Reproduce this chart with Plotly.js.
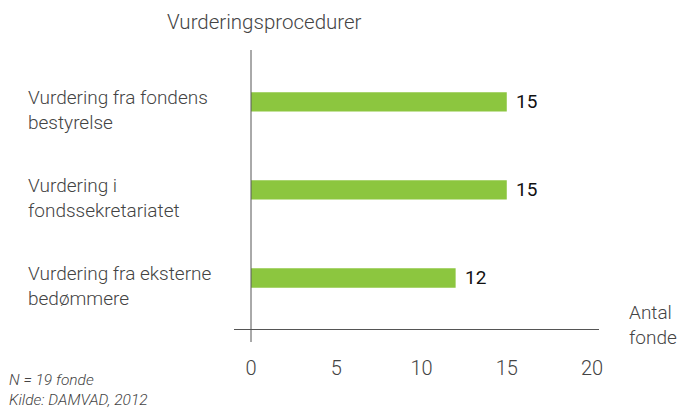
<!DOCTYPE html>
<html>
<head>
<meta charset="utf-8">
<script src="https://cdn.plot.ly/plotly-3.0.1.min.js"></script>
<style>html,body{margin:0;padding:0;background:#fff;}#chart{width:678px;height:409px;}</style>
</head>
<body>
<div id="chart"></div>
<script>
// Data
const categories = ["Vurdering fra fondens<br>bestyrelse", "Vurdering i<br>fondssekretariatet", "Vurdering fra eksterne<br>bedømmere"];
const values = [15, 15, 12];
const tickValues = [0, 5, 10, 15, 20];
const tickLabels = ["0", "5", "10", "15", "20"];
const chartTitle = "Vurderingsprocedurer";
const xAxisLabel = "Antal<br>fonde";
const footnote = "N = 19 fonde<br>Kilde: DAMVAD, 2012";

const FONT = 'Roboto, "Liberation Sans", Arial, sans-serif';
const GREY = '#444';

const trace = {
  type: 'bar',
  orientation: 'h',
  y: categories,
  x: values,
  width: 0.22,
  marker: {color: '#8cc63f'},
  hoverinfo: 'none'
};

const annotations = categories.map(c => ({
  xref: 'paper', yref: 'y', x: (26 - 234) / 365, y: c, yshift: -8,
  xanchor: 'left', yanchor: 'middle', align: 'left', showarrow: false,
  text: c, font: {family: FONT, size: 19, color: GREY, weight: 300}
}));
categories.forEach((c, i) => annotations.push({
  xref: 'x', yref: 'y', x: values[i], y: c, xshift: 7,
  xanchor: 'left', yanchor: 'middle', showarrow: false,
  text: String(values[i]), font: {family: FONT, size: 19, color: '#111', weight: 400}
}));
annotations.push({
  xref: 'paper', yref: 'paper', x: (627 - 234) / 365, y: 0.014,
  xanchor: 'left', yanchor: 'middle', align: 'left', showarrow: false,
  text: xAxisLabel, font: {family: FONT, size: 19, color: GREY, weight: 300}
});
annotations.push({
  xref: 'paper', yref: 'paper', x: (7 - 234) / 365, y: -(369 - 329) / 279,
  xanchor: 'left', yanchor: 'top', align: 'left', showarrow: false,
  text: '<i>' + footnote + '</i>', font: {family: FONT, size: 15.5, color: GREY, weight: 300}
});

const layout = {
  width: 678, height: 409,
  margin: {l: 234, r: 79, t: 50, b: 80, pad: 0},
  paper_bgcolor: '#fff', plot_bgcolor: '#fff',
  showlegend: false,
  title: {text: chartTitle, xref: 'container', yref: 'container', x: 167 / 678, xanchor: 'left',
          y: 1 - 22 / 409, yanchor: 'middle', font: {family: FONT, size: 20.5, color: GREY, weight: 300}},
  xaxis: {
    range: [-1, 20.41], tickvals: tickValues, ticktext: tickLabels,
    showgrid: false, zeroline: false, showline: true, linecolor: '#555', linewidth: 1,
    ticks: 'outside', ticklen: 21, tickcolor: 'rgba(0,0,0,0)',
    tickfont: {family: FONT, size: 20, color: GREY, weight: 300}
  },
  yaxis: {
    range: [2.58, -0.59], showticklabels: false, showgrid: false, zeroline: false,
    showline: false, ticks: ''
  },
  shapes: [{
    type: 'line', xref: 'paper', yref: 'paper',
    x0: 17 / 365, x1: 17 / 365, y0: -(342 - 329) / 279, y1: 1,
    line: {color: '#555', width: 1}
  }],
  annotations: annotations
};

Plotly.newPlot('chart', [trace], layout, {staticPlot: true, displayModeBar: false});
</script>
</body>
</html>
